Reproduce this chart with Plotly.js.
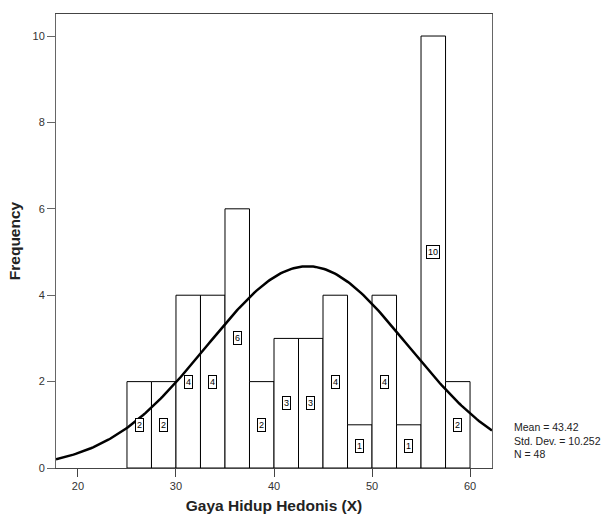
<!DOCTYPE html>
<html>
<head>
<meta charset="utf-8">
<script src="https://cdn.plot.ly/plotly-3.0.1.min.js"></script>
<style>html,body{margin:0;padding:0;background:#fff;}#chart{width:609px;height:521px;}</style>
</head>
<body>
<div id="chart"></div>
<script>
// Histogram bins (lower edges) and counts
const binStarts = [25, 27.5, 30, 32.5, 35, 37.5, 40, 42.5, 45, 47.5, 50, 52.5, 55, 57.5];
const counts    = [2, 2, 4, 4, 6, 2, 3, 3, 4, 1, 4, 1, 10, 2];
const binWidth = 2.5;
// Summary statistics shown on the chart
const meanVal = 43.42;
const sdVal = 10.252;
const nVal = 48;
const xTicks = [20, 30, 40, 50, 60];
const yTicks = [0, 2, 4, 6, 8, 10];

const xMin = 17.76, xMax = 62.24;

const centers = binStarts.map(s => s + binWidth / 2);

// Fitted normal curve from the stated mean / SD / N
const cx = [], cy = [];
for (let i = 0; i <= 200; i++) {
  const x = xMin + (xMax - xMin) * i / 200;
  const z = (x - meanVal) / sdVal;
  cx.push(x);
  cy.push(nVal * binWidth / (sdVal * Math.sqrt(2 * Math.PI)) * Math.exp(-0.5 * z * z));
}

const traces = [
  {
    type: 'bar', x: centers, y: counts, width: binWidth,
    marker: {color: '#ffffff', line: {color: '#000000', width: 1}},
    hoverinfo: 'skip'
  },
  {
    type: 'scatter', mode: 'lines', x: cx, y: cy,
    line: {color: '#000000', width: 2.5}, hoverinfo: 'skip'
  }
];

const annotations = centers.map((c, i) => ({
  x: c, y: counts[i] / 2, xref: 'x', yref: 'y',
  text: String(counts[i]), showarrow: false,
  font: {family: 'Arial, Liberation Sans, sans-serif', size: 9, color: '#000'},
  bgcolor: '#ffffff', bordercolor: '#000000', borderwidth: 1, borderpad: 1
}));

annotations.push({
  xref: 'paper', yref: 'paper', x: 1.045, y: 0.06, xanchor: 'left', yanchor: 'middle',
  align: 'left', showarrow: false,
  text: 'Mean = ' + meanVal.toFixed(2) + '<br>Std. Dev. = ' + sdVal.toFixed(3) + '<br>N = ' + nVal,
  font: {family: 'Arial, Liberation Sans, sans-serif', size: 10.5, color: '#222'}
});

const layout = {
  width: 609, height: 521,
  margin: {l: 56, r: 117, t: 14, b: 53},
  paper_bgcolor: '#ffffff', plot_bgcolor: '#ffffff',
  showlegend: false,
  bargap: 0,
  font: {family: 'Arial, Liberation Sans, sans-serif', color: '#333'},
  xaxis: {
    range: [xMin, xMax], tickvals: xTicks, ticks: 'outside', ticklen: 8, tickwidth: 1,
    tickcolor: '#444', showgrid: false, zeroline: false,
    showline: true, linecolor: '#444', linewidth: 1, mirror: true,
    tickfont: {size: 11, color: '#333'},
    title: {text: '<b>Gaya Hidup Hedonis (X)</b>', font: {size: 15.5, color: '#222'}, standoff: 8}
  },
  yaxis: {
    range: [0, 10.51], tickvals: yTicks, ticks: 'outside', ticklen: 8, tickwidth: 1,
    tickcolor: '#666', showgrid: false, zeroline: false,
    showline: true, linecolor: '#666', linewidth: 1, mirror: true,
    tickfont: {size: 11, color: '#333'},
    title: {text: '<b>Frequency</b>', font: {size: 15.5, color: '#222'}, standoff: 8}
  },
  annotations: annotations
};

Plotly.newPlot('chart', traces, layout, {displayModeBar: false, staticPlot: true});
</script>
</body>
</html>
